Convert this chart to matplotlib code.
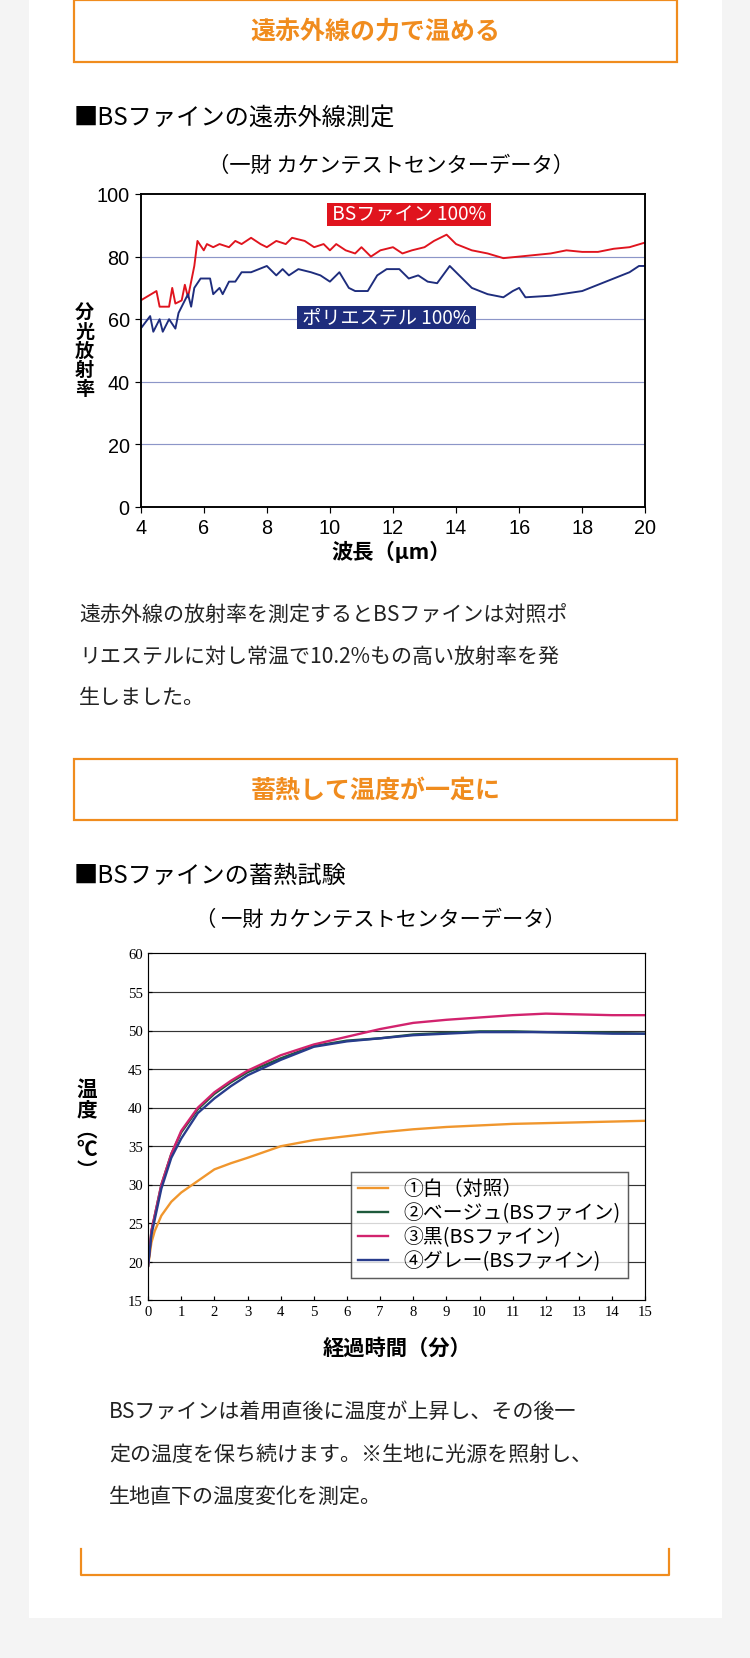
import matplotlib
matplotlib.use("Agg")
import matplotlib.pyplot as plt
from matplotlib.patches import Rectangle

plt.rcParams["font.family"] = "Noto Sans CJK JP"

W, H = 709, 1568
ORANGE = "#F08C1E"
RED = "#E0141E"
NAVY = "#1E2D7D"

# chart 1: spectral emissivity
wave_red = [4, 4.5, 4.6, 4.9, 5.0, 5.1, 5.3, 5.4, 5.5, 5.7, 5.8, 6.0, 6.1, 6.3, 6.5, 6.8, 7.0, 7.2, 7.5, 7.8,
            8.0, 8.3, 8.6, 8.8, 9.2, 9.5, 9.8, 10.0, 10.2, 10.5, 10.8, 11.0, 11.3, 11.6, 12.0, 12.3, 12.6, 13.0,
            13.3, 13.7, 14.0, 14.5, 15.0, 15.5, 16, 16.5, 17, 17.5, 18, 18.5, 19, 19.5, 20]
bs_fine = [66, 69, 64, 64, 70, 65, 66, 71, 67, 77, 85, 82, 84, 83, 84, 83, 85, 84, 86, 84,
           83, 85, 84, 86, 85, 83, 84, 82, 84, 82, 81, 83, 80, 82, 83, 81, 82, 83,
           85, 87, 84, 82, 81, 79.5, 80, 80.5, 81, 82, 81.5, 81.5, 82.5, 83, 84.5]
wave_blue = [4, 4.3, 4.4, 4.6, 4.7, 4.9, 5.1, 5.2, 5.4, 5.5, 5.6, 5.7, 5.9, 6.2, 6.3, 6.5, 6.6, 6.8, 7.0, 7.2,
             7.5, 8.0, 8.3, 8.5, 8.7, 9.0, 9.4, 9.7, 10.0, 10.3, 10.6, 10.8, 11.2, 11.5, 11.8, 12.2, 12.5, 12.8,
             13.1, 13.4, 13.8, 14.0, 14.5, 15.0, 15.5, 15.8, 16.0, 16.2, 17, 18, 18.5, 19.5, 19.8, 20]
polyester = [57, 61, 56, 60, 56, 60, 57, 62, 66, 68, 64, 70, 73, 73, 68, 70, 68, 72, 72, 75,
             75, 77, 74, 76, 74, 76, 75, 74, 72, 75, 70, 69, 69, 74, 76, 76, 73, 74,
             72, 71.5, 77, 75, 70, 68, 67, 69, 70, 67, 67.5, 69, 71, 75, 77, 77]

# chart 2: heat storage
minutes = [0, 0.1, 0.2, 0.4, 0.7, 1, 1.5, 2, 2.5, 3, 4, 5, 6, 7, 8, 9, 10, 11, 12, 13, 14, 15]
white = [19.5, 22.5, 24, 26, 27.8, 29, 30.5, 32, 32.8, 33.5, 35, 35.8, 36.3, 36.8, 37.2, 37.5, 37.7, 37.9, 38, 38.1, 38.2, 38.3]
beige = [19.5, 24, 26, 30, 34, 36.8, 39.8, 41.8, 43.3, 44.6, 46.4, 48, 48.7, 49, 49.5, 49.7, 49.9, 49.9, 49.8, 49.8, 49.7, 49.6]
black = [19.5, 24, 26, 30, 34, 37, 40, 42, 43.5, 44.8, 46.8, 48.2, 49.2, 50.2, 51, 51.4, 51.7, 52, 52.2, 52.1, 52, 52]
gray = [19.5, 23.5, 25.5, 29.5, 33.5, 36, 39.3, 41.2, 42.8, 44.2, 46.2, 47.9, 48.6, 49, 49.4, 49.6, 49.8, 49.8, 49.8, 49.7, 49.6, 49.6]
legend_labels = ["①白（対照）", "②ベージュ(BSファイン)", "③黒(BSファイン)", "④グレー(BSファイン)"]


def box(x0, y0, x1, y1):
    return [x0 / W, 1 - y1 / H, (x1 - x0) / W, (y1 - y0) / H]


fig = plt.figure(figsize=(7.09, 15.68), dpi=750 / 7.09)
fig.patch.set_facecolor("#F4F4F4")
bg = fig.add_axes([0, 0, 1, 1])
bg.set_xlim(0, W)
bg.set_ylim(H, 0)
bg.axis("off")
bg.add_patch(Rectangle((27, 0), 656, 1530, facecolor="white", edgecolor="none"))
for y0, title in [(0, "遠赤外線の力で温める"), (717, "蓄熱して温度が一定に")]:
    bg.add_patch(Rectangle((70, y0 + 1), 570, 58, facecolor="white", edgecolor=ORANGE, lw=1.5))
    bg.text(355, y0 + 30, title, color=ORANGE, fontsize=17, fontweight="bold", ha="center", va="center")
bg.text(70, 112, "■BSファインの遠赤外線測定", fontsize=16.5, va="center")
bg.text(370, 157, "（一財 カケンテストセンターデータ）", fontsize=14.5, ha="center", va="center")
bg.text(80, 332, "分\n光\n放\n射\n率", fontsize=13, fontweight="bold", ha="center", va="center", linespacing=1.0)
bg.text(370, 522, "波長（μm）", fontsize=14.5, fontweight="bold", ha="center", va="center")
for i, line in enumerate(["遠赤外線の放射率を測定するとBSファインは対照ポ",
                          "リエステルに対し常温で10.2%もの高い放射率を発",
                          "生しました。"]):
    bg.text(75, 582 + 39 * i, line, fontsize=14.3, va="center", color="#222222")
bg.text(70, 828, "■BSファインの蓄熱試験", fontsize=16.5, va="center")
bg.text(360, 870, "（ 一財 カケンテストセンターデータ）", fontsize=14.5, ha="center", va="center")
bg.text(82, 1068, "温\n度\n︵\n℃\n︶", fontsize=14, fontweight="bold", ha="center", va="center", linespacing=0.95)
bg.text(375, 1275, "経過時間（分）", fontsize=14.5, fontweight="bold", ha="center", va="center")
for i, line in enumerate(["BSファインは着用直後に温度が上昇し、その後一",
                          "定の温度を保ち続けます。※生地に光源を照射し、",
                          "生地直下の温度変化を測定。"]):
    bg.text(103, 1335 + 40 * i, line, fontsize=14.3, va="center", color="#222222")
bg.plot([77, 77, 632, 632], [1465, 1490, 1490, 1465], color=ORANGE, lw=1.5)

# chart 1
ax1 = fig.add_axes(box(133, 184, 610, 480))
ax1.plot(wave_red, bs_fine, color=RED, lw=1.3)
ax1.plot(wave_blue, polyester, color=NAVY, lw=1.3)
ax1.set_xlim(4, 20)
ax1.set_ylim(0, 100)
ax1.set_xticks(range(4, 21, 2))
ax1.set_yticks(range(0, 101, 20))
for v in [20, 40, 60, 80]:
    ax1.axhline(v, color="#8C96C8", lw=0.8, zorder=0)
ax1.tick_params(labelsize=13.5, length=4, direction="out")
for lab in ax1.get_xticklabels() + ax1.get_yticklabels():
    lab.set_fontfamily("Liberation Sans")
for s in ax1.spines.values():
    s.set_linewidth(1.3)
ax1.text(12.5, 93.5, " BSファイン 100% ", color="white", fontsize=13, ha="center", va="center",
         bbox=dict(boxstyle="square,pad=0.05", fc=RED, ec="none"))
ax1.text(11.8, 60.5, " ポリエステル 100% ", color="white", fontsize=13, ha="center", va="center",
         bbox=dict(boxstyle="square,pad=0.05", fc=NAVY, ec="none"))

# chart 2
ax2 = fig.add_axes(box(140, 902, 610, 1230))
for v in range(20, 60, 5):
    ax2.axhline(v, color="#333333", lw=0.8, zorder=0)
ax2.plot(minutes, white, color="#F0962D", lw=1.6, label=legend_labels[0])
ax2.plot(minutes, beige, color="#1E5A3C", lw=1.6, label=legend_labels[1])
ax2.plot(minutes, black, color="#D2236E", lw=1.6, label=legend_labels[2])
ax2.plot(minutes, gray, color="#283C8C", lw=1.6, label=legend_labels[3])
ax2.set_xlim(0, 15)
ax2.set_ylim(15, 60)
ax2.set_xticks(range(0, 16))
ax2.set_yticks(range(15, 61, 5))
ax2.tick_params(labelsize=10, length=3, direction="in")
for lab in ax2.get_xticklabels() + ax2.get_yticklabels():
    lab.set_fontfamily("Liberation Serif")
leg = ax2.legend(loc="lower right", bbox_to_anchor=(0.985, 0.035), fontsize=13.5, frameon=True, fancybox=False,
                 edgecolor="#333333", handlelength=1.5, labelspacing=0.15, borderpad=0.35)
leg.get_frame().set_linewidth(1.0)

fig.savefig("out.png", dpi=750 / 7.09)
